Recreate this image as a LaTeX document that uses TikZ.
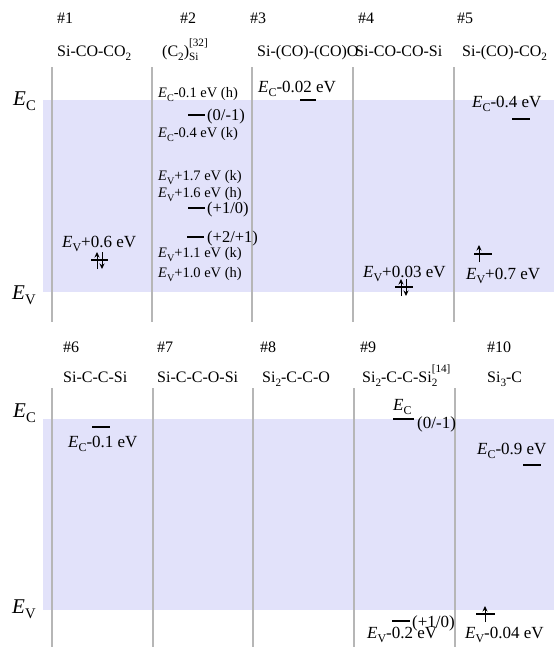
\documentclass[tikz,border=0pt]{standalone}
\usepackage{fontspec}
\setmainfont{Liberation Serif}
\usetikzlibrary{arrows.meta}
\definecolor{bandblue}{RGB}{226,226,250}
\definecolor{sepgray}{RGB}{182,182,182}
\newcommand\lsub[1]{\raisebox{-0.28em}{\scalebox{0.7}{#1}}}
\newcommand\hsup[1]{\raisebox{0.62em}{\scalebox{0.7}{#1}}}
\newcommand\EC{\textit{E}\lsub{C}}
\newcommand\EV{\textit{E}\lsub{V}}
\begin{document}
\begin{tikzpicture}[x=1pt,y=-1pt,
  txt/.style={anchor=base west, inner sep=0pt, font=\fontsize{16}{18}\selectfont},
  lab/.style={txt, font=\fontsize{17}{19}\selectfont},
  small/.style={txt, font=\fontsize{14.5}{16}\selectfont},
  trans/.style={txt, font=\fontsize{16.5}{18}\selectfont},
  big/.style={txt, font=\fontsize{21}{24}\selectfont},
  sepline/.style={draw=sepgray, line width=1.4pt},
  level/.style={line width=2pt},
  spin/.style={line width=0.8pt, -{Stealth[length=5.5pt,width=5pt]}}]
\useasboundingbox (0,0) rectangle (554,649);
% bands
\fill[bandblue] (43,100) rectangle (554,292);
\fill[bandblue] (43,419) rectangle (554,610);
% separators
\foreach \x in {52,152,252,353,454} \draw[sepline] (\x,67) -- (\x,322);
\foreach \x in {52,153,253,354,455} \draw[sepline] (\x,388) -- (\x,647);
% ---------- top panel ----------
\node[big] (ecT) at (13,105) {\EC};
\node[big] (evT) at (12,299) {\EV};
\node[txt] (h1) at (57,23) {\#1};
\node[txt] (h2) at (180,23) {\#2};
\node[txt] (h3) at (250,23) {\#3};
\node[txt] (h4) at (358,23) {\#4};
\node[txt] (h5) at (457,23) {\#5};
\node[txt] (n1) at (57,56) {Si-CO-CO\lsub{2}};
\node[txt] (n2) at (162,56) {(C\lsub{2})\rlap{\hsup{[32]}}\lsub{Si}};
\node[txt] (n3) at (257,56) {Si-(CO)-(CO)O};
\node[txt] (n4) at (355,56) {Si-CO-CO-Si};
\node[txt] (n5) at (462,56) {Si-(CO)-CO\lsub{2}};
% column 1
\node[lab] (t1) at (62,247) {\EV+0.6 eV};
\draw[level] (91,260) -- (108,260);
\draw[spin] (97,269) -- (97,252);
\draw[spin] (102,252) -- (102,269);
% column 2
\node[small] (a1) at (158,97) {\EC-0.1 eV (h)};
\draw[level] (188,115) -- (205,115);
\node[trans] (b1) at (207,120) {(0/-1)};
\node[small] (a2) at (158,137) {\EC-0.4 eV (k)};
\node[small] (a3) at (158,180) {\EV+1.7 eV (k)};
\node[small] (a4) at (158,197) {\EV+1.6 eV (h)};
\draw[level] (188,208) -- (205,208);
\node[trans] (b2) at (207,213) {(+1/0)};
\draw[level] (187,237) -- (204,237);
\node[trans] (b3) at (207,242) {(+2/+1)};
\node[small] (a5) at (158,257) {\EV+1.1 eV (k)};
\node[small] (a6) at (158,277) {\EV+1.0 eV (h)};
% column 3
\node[lab] (t3) at (258,92) {\EC-0.02 eV};
\draw[level] (300,100) -- (316,100);
% column 4
\node[lab] (t4) at (363,277) {\EV+0.03 eV};
\draw[level] (395,287) -- (413,287);
\draw[spin] (401,296) -- (401,279);
\draw[spin] (406,279) -- (406,296);
% column 5
\node[lab] (t5a) at (472,107) {\EC-0.4 eV};
\draw[level] (512,119) -- (530,119);
\draw[level] (474,254) -- (492,254);
\draw[spin] (479,262) -- (479,245);
\node[lab] (t5b) at (466,279) {\EV+0.7 eV};
% ---------- bottom panel ----------
\node[big] (ecB) at (13,417) {\EC};
\node[big] (evB) at (12,613) {\EV};
\node[txt] (h6) at (63,352) {\#6};
\node[txt] (h7) at (157,352) {\#7};
\node[txt] (h8) at (260,352) {\#8};
\node[txt] (h9) at (360,352) {\#9};
\node[txt] (h10) at (487,352) {\#10};
\node[txt] (n6) at (63,382) {Si-C-C-Si};
\node[txt] (n7) at (157,382) {Si-C-C-O-Si};
\node[txt] (n8) at (262,382) {Si\lsub{2}-C-C-O};
\node[txt] (n9) at (362,382) {Si\lsub{2}-C-C-Si\rlap{\lsub{2}}\hsup{[14]}};
\node[txt] (n10) at (487,382) {Si\lsub{3}-C};
% column 6
\draw[level] (92,427) -- (110,427);
\node[lab] (t6) at (68,447) {\EC-0.1 eV};
% column 9
\node[lab] (t9a) at (393,410) {\EC};
\draw[level] (393,419) -- (414,419);
\node[lab] (t9b) at (417,428) {(0/-1)};
\draw[level] (392,621) -- (410,621);
\node[lab] (t9c) at (412,627) {(+1/0)};
\node[lab] (t9d) at (367,638) {\EV-0.2 eV};
% column 10
\node[lab] (t10a) at (477,454) {\EC-0.9 eV};
\draw[level] (523,465) -- (541,465);
\draw[level] (476,614) -- (495,614);
\draw[spin] (485,622) -- (485,606);
\node[lab] (t10b) at (465,638) {\EV-0.04 eV};
\end{tikzpicture}
\end{document}
